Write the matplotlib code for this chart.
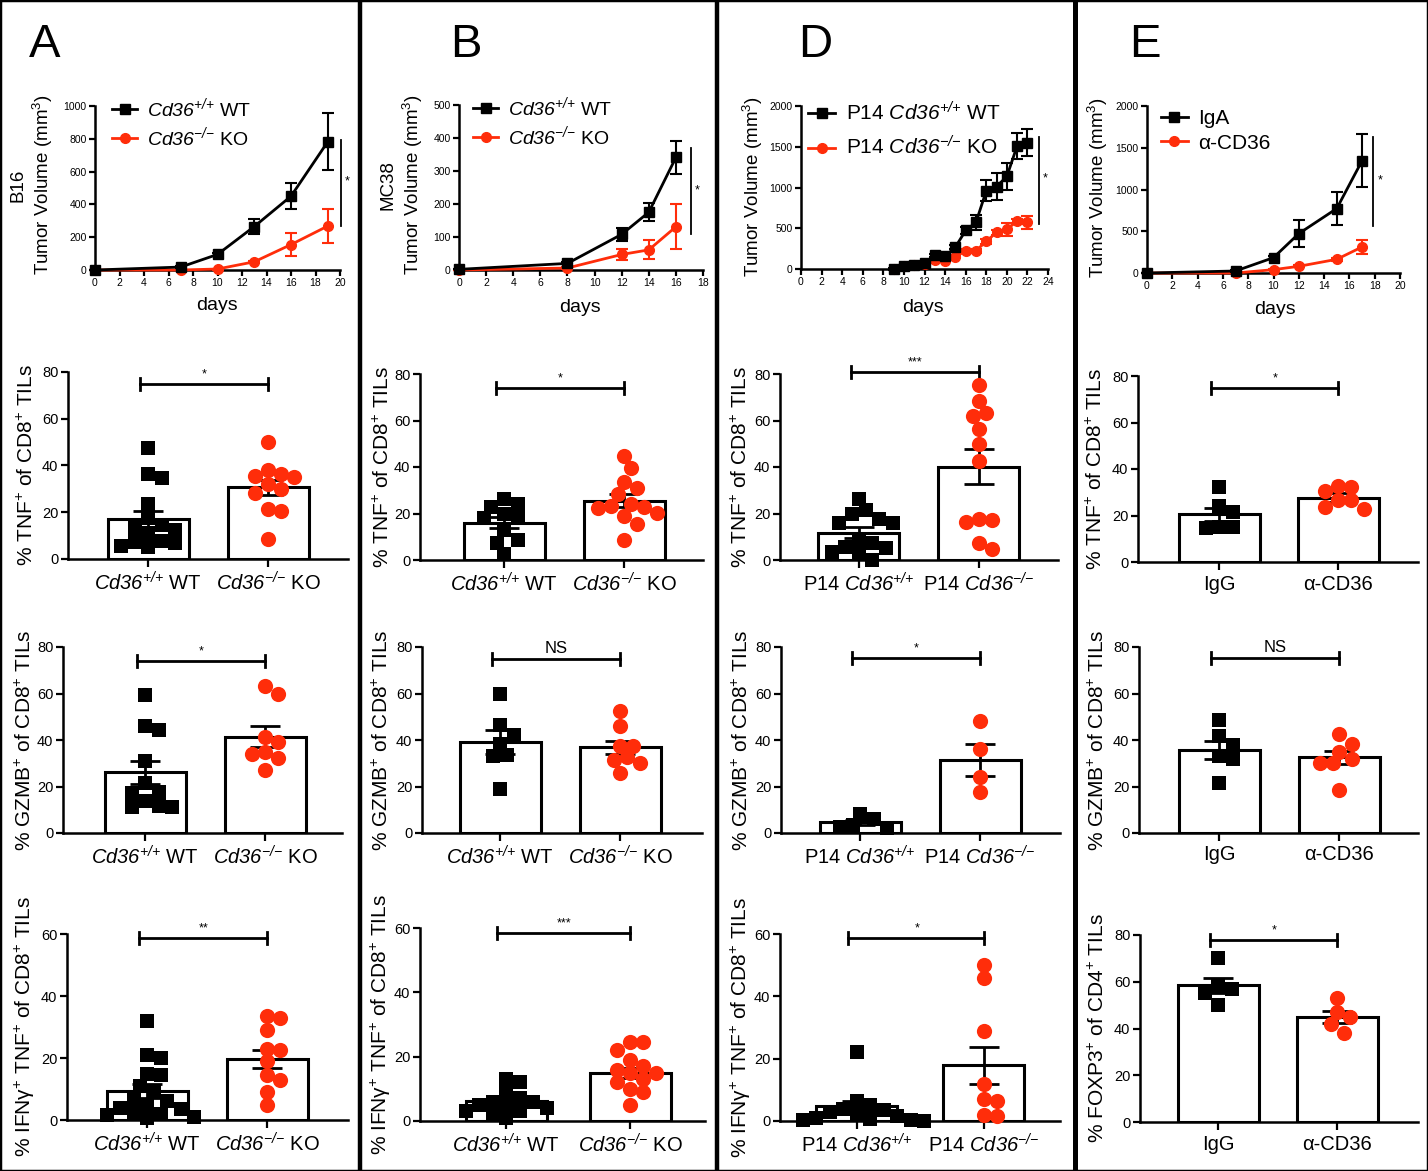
import matplotlib
matplotlib.use('Agg')
import matplotlib.pyplot as plt
from matplotlib.lines import Line2D
import numpy as np

plt.rcParams['font.family'] = ['Liberation Sans', 'DejaVu Sans']
plt.rcParams['mathtext.fontset'] = 'custom'
plt.rcParams['mathtext.rm'] = 'Liberation Sans'
plt.rcParams['mathtext.it'] = 'Liberation Sans:italic'
plt.rcParams['mathtext.sf'] = 'Liberation Sans:italic'
plt.rcParams['mathtext.bf'] = 'Liberation Sans:bold'
plt.rcParams['axes.linewidth'] = 1.8

W, H = 1428, 1171
RED = '#FF2D0A'

# ---------------- tumour growth curves ----------------
b16_days = [0, 7, 10, 13, 16, 19]
b16_wt = [0, 18, 95, 265, 450, 782]
b16_wt_err = [0, 5, 8, 47, 80, 175]
b16_ko = [0, 0, 6, 50, 155, 268]
b16_ko_err = [0, 0, 3, 6, 68, 103]

mc38_days = [0, 8, 12, 14, 16]
mc38_wt = [2, 20, 108, 175, 341]
mc38_wt_err = [0, 3, 20, 28, 49]
mc38_ko = [0, 6, 47, 61, 131]
mc38_ko_err = [0, 2, 18, 29, 68]

p14_days = [9, 10, 11, 12, 13, 14, 15, 16, 17, 18, 19, 20, 21, 22]
p14_wt = [0, 41, 53, 78, 167, 155, 269, 473, 571, 959, 1012, 1135, 1510, 1551]
p14_wt_err = [8, 10, 12, 15, 20, 20, 25, 45, 95, 130, 170, 160, 160, 170]
p14_ko = [0, 33, 45, 65, 110, 98, 147, 224, 224, 339, 449, 490, 584, 576]
p14_ko_err = [5, 8, 8, 10, 12, 12, 15, 20, 25, 30, 35, 80, 30, 80]

ab_days = [0, 7, 10, 12, 15, 17]
ab_iga = [0, 24, 184, 472, 772, 1344]
ab_iga_err = [0, 8, 20, 160, 200, 320]
ab_cd36 = [0, 0, 40, 80, 164, 312]
ab_cd36_err = [0, 0, 8, 12, 20, 85]

# ---------------- TNF+ of CD8+ ----------------
tnf_a_wt = [47.7, 36.3, 34.6, 23.4, 17.4, 13.1, 12.4, 14.6, 11.0, 7.7, 6.7, 5.3, 5.6, 7.1]
tnf_a_ko = [49.9, 36.3, 37.9, 34.9, 35.6, 32.1, 30.0, 28.1, 21.3, 20.6, 8.4]
tnf_a_mean = [17.1, 30.6]
tnf_a_sem = [3.6, 3.4]

tnf_b_wt = [26.1, 22.9, 23.9, 19.6, 18.2, 18.2, 12.9, 8.6, 7.5, 2.4]
tnf_b_ko = [44.7, 39.4, 33.7, 30.8, 28.4, 23.9, 22.9, 20.1, 22.2, 23.4, 18.9, 15.3, 8.6]
tnf_b_mean = [16.1, 25.5]
tnf_b_sem = [2.5, 2.7]

tnf_d_wt = [26.3, 21.3, 19.7, 16.1, 17.7, 15.8, 8.6, 5.7, 7.2, 3.6, 2.9, 5.0, 0.0]
tnf_d_ko = [75.1, 68.2, 63.2, 61.8, 56.3, 50.0, 42.4, 17.2, 16.5, 17.5, 7.2, 4.7]
tnf_d_mean = [11.8, 40.1]
tnf_d_sem = [2.3, 7.5]

tnf_e_igg = [32.3, 24.1, 21.6, 15.1, 14.7, 15.1]
tnf_e_cd36 = [32.3, 32.8, 30.5, 26.6, 26.6, 22.7, 23.7]
tnf_e_mean = [20.5, 27.7]
tnf_e_sem = [2.7, 1.8]

# ---------------- GZMB+ of CD8+ ----------------
gzmb_a_wt = [59.3, 46.1, 44.3, 31.1, 21.7, 17.1, 17.6, 13.9, 11.7, 11.1, 11.1]
gzmb_a_ko = [63.1, 59.7, 41.1, 39.0, 35.0, 34.0, 32.1, 27.1]
gzmb_a_mean = [26.1, 41.4]
gzmb_a_sem = [5.0, 4.6]

gzmb_b_wt = [59.9, 46.3, 42.3, 38.4, 33.7, 33.0, 18.9]
gzmb_b_ko = [52.3, 45.9, 37.6, 37.3, 31.5, 32.5, 30.1, 25.8]
gzmb_b_mean = [39.1, 36.8]
gzmb_b_sem = [5.0, 2.8]

gzmb_d_wt = [8.3, 3.6, 2.1, 2.4, 6.1]
gzmb_d_ko = [48.3, 36.1, 23.9, 17.6]
gzmb_d_mean = [4.6, 31.4]
gzmb_d_sem = [1.1, 6.7]

gzmb_e_igg = [48.6, 41.9, 38.0, 33.3, 31.9, 21.6]
gzmb_e_cd36 = [42.6, 38.3, 35.0, 31.9, 30.0, 30.0, 18.3]
gzmb_e_mean = [35.7, 32.6]
gzmb_e_sem = [3.8, 2.8]

# ---------------- IFNg+TNF+ of CD8+ / FOXP3+ of CD4+ ----------------
ifn_a_wt = [32, 21, 20, 15, 14.5, 11, 9, 7, 6, 5, 4, 3.5, 2.5, 2, 1.5, 1, 0.5]
ifn_a_ko = [33.5, 33, 29, 23, 22.5, 19, 14.5, 13, 9, 5]
ifn_a_mean = [9.4, 19.7]
ifn_a_sem = [2.3, 3.0]

ifn_b_wt = [13, 12, 9, 7, 6, 6, 5, 5, 4, 3, 3, 2, 1]
ifn_b_ko = [24.5, 24.5, 22, 19, 17, 16, 15, 15, 13, 12, 10, 9, 5]
ifn_b_mean = [6.2, 14.9]
ifn_b_sem = [1.1, 1.6]

ifn_d_wt = [22, 6.5, 5, 4, 3.5, 3, 2, 1.5, 1, 0.5, 0.3, 0.2, 0]
ifn_d_ko = [50, 46, 29, 12, 7, 6.5, 2, 1.5]
ifn_d_mean = [4.8, 17.9]
ifn_d_sem = [1.6, 6.0]

foxp3_e_igg = [70, 58, 57, 55, 50]
foxp3_e_cd36 = [53, 47, 45, 42, 38]
foxp3_e_mean = [58.5, 45.0]
foxp3_e_sem = [3.2, 2.5]

# ---------------- labels ----------------
SUP_WT = r'^{\mathsf{{+}/{+}}}'
SUP_KO = r'^{\mathsf{{-}/{-}}}'
WT_LBL = r'$\mathsf{Cd36}' + SUP_WT + r'$ WT'
KO_LBL = r'$\mathsf{Cd36}' + SUP_KO + r'$ KO'
P14_WT = r'P14 $\mathsf{Cd36}' + SUP_WT + r'$'
P14_KO = r'P14 $\mathsf{Cd36}' + SUP_KO + r'$'
TNF_Y = r'% TNF$^{+}$ of CD8$^{+}$ TILs'
GZMB_Y = r'% GZMB$^{+}$ of CD8$^{+}$ TILs'
IFN_Y = r'% IFNγ$^{+}$ TNF$^{+}$ of CD8$^{+}$ TILs'
FOXP3_Y = r'% FOXP3$^{+}$ of CD4$^{+}$ TILs'
TV_Y = r'Tumor Volume (mm$^{3}$)'

fig = plt.figure(figsize=(W / 100, H / 100), dpi=100)


def rect(l, r, t, b):
    return [l / W, 1 - b / H, (r - l) / W, (b - t) / H]


def ftext(x, y, s, **kw):
    fig.text(x / W, 1 - y / H, s, **kw)


def style(ax, tsize):
    for sp in ['top', 'right']:
        ax.spines[sp].set_visible(False)
    ax.tick_params(direction='out', length=5, width=1.6, labelsize=tsize, pad=2)


def tumor_panel(box, days, y1, e1, y2, e2, labels, xmax, ymax, ystep, sig, leg,
                ylab_x, ylab_y, days_xy, extra=None):
    l, r, t, b = box
    ax = fig.add_axes(rect(l, r, t, b))
    ax.set_xlim(0, xmax)
    ax.set_ylim(0, ymax)
    ax.set_xticks(np.arange(0, xmax + 1, 2))
    ax.set_yticks(np.arange(0, ymax + 1, ystep))
    style(ax, 7.5)
    ax.tick_params(length=4)
    ax.errorbar(days, y2, yerr=e2, color=RED, lw=2, marker='o', ms=7,
                capsize=4, elinewidth=1.5, capthick=1.5, clip_on=False, zorder=3)
    ax.errorbar(days, y1, yerr=e1, color='black', lw=2, marker='s', ms=7.5,
                capsize=4, elinewidth=1.5, capthick=1.5, clip_on=False, zorder=4)
    h1 = Line2D([], [], color='black', lw=2, marker='s', ms=7.5)
    h2 = Line2D([], [], color=RED, lw=2, marker='o', ms=7)
    ax.legend([h1, h2], labels, loc='upper left', bbox_to_anchor=leg[:2],
              frameon=False, fontsize=leg[2], handlelength=1.3, handletextpad=0.5,
              labelspacing=leg[3], borderaxespad=0, borderpad=0, numpoints=1)
    sx, sy0, sy1, tx, ty = sig
    ax.plot([sx, sx], [sy0, sy1], color='black', lw=1.3, clip_on=False)
    ax.text(tx, ty, '*', fontsize=9, ha='center', va='center', clip_on=False)
    ftext(ylab_x, ylab_y, TV_Y, rotation=90, ha='center', va='center', fontsize=13.5)
    if extra:
        ftext(extra[0], ylab_y, extra[1], rotation=90, ha='center', va='center', fontsize=13.5)
    ftext(days_xy[0], days_xy[1], 'days', ha='center', va='center', fontsize=14)
    return ax


def swarm(ax, x0, vals, d):
    vals = np.asarray(vals, dtype=float)
    ys = ax.transData.transform(np.column_stack([np.full(len(vals), x0), vals]))[:, 1]
    ppx = ax.transData.transform((1, 0))[0] - ax.transData.transform((0, 0))[0]
    cands = [0.0]
    for k in range(1, 30):
        cands += [k * d / 2, -k * d / 2]
    placed = []
    offs = np.zeros(len(vals))
    for i in np.argsort(-ys):
        for c in cands:
            if all((c - ox) ** 2 + (ys[i] - oy) ** 2 >= (d * 0.95) ** 2 for ox, oy in placed):
                offs[i] = c
                placed.append((c, ys[i]))
                break
    return x0 + offs / ppx


def bar_panel(box, centers, g1, g2, means, sems, ymax, ylabel, ylab_x, xlabels,
              sig, sig_y):
    l, r, t, b = box
    c0, c1 = centers
    unit = c1 - c0
    ax = fig.add_axes(rect(l, r, t, b))
    ax.set_xlim((l - c0) / unit, 1 + (r - c1) / unit)
    ax.set_ylim(0, ymax)
    ax.set_yticks(np.arange(0, ymax + 1, 20))
    ax.set_xticks([0, 1])
    style(ax, 10.5)
    ax.set_xticklabels(xlabels)
    ax.tick_params(axis='x', length=6, pad=3, labelsize=14.5)
    ax.bar([0, 1], means, width=81 / unit, color='white', edgecolor='black',
           lw=2.2, zorder=2)
    ax.errorbar([0, 1], means, yerr=sems, fmt='none', ecolor='black',
                elinewidth=2, capsize=11, capthick=2, zorder=3)
    ax.scatter(swarm(ax, 0, g1, 13.5), g1, marker='s', s=110, color='black',
               linewidths=0, zorder=4, clip_on=False)
    ax.scatter(swarm(ax, 1, g2, 13), g2, marker='o', s=120, color=RED,
               linewidths=0, zorder=4, clip_on=False)
    tick = ymax / 80 * 2.6
    ax.plot([-0.07, 1.0], [sig_y, sig_y], color='black', lw=2, clip_on=False)
    ax.plot([-0.07, -0.07], [sig_y - tick, sig_y + tick], color='black', lw=2, clip_on=False)
    ax.plot([1.0, 1.0], [sig_y - tick, sig_y + tick], color='black', lw=2, clip_on=False)
    fs = 12 if sig == 'NS' else 9
    ax.text(0.47, sig_y + ymax / 80 * 1.5, sig, ha='center', va='bottom',
            fontsize=fs, clip_on=False)
    ftext(ylab_x, (t + b) / 2, ylabel, rotation=90, ha='center', va='center',
          fontsize=15)
    return ax


# ---------------- row 1: growth curves ----------------
tumor_panel((95, 340, 106, 270), b16_days, b16_wt, b16_wt_err, b16_ko, b16_ko_err,
            [WT_LBL, KO_LBL], 20, 1000, 200, (20.08, 793, 270, 20.6, 540),
            (0.07, 1.06, 14, 0.25), 43, 185, (217, 305), extra=(18, 'B16'))
tumor_panel((459, 703, 105, 270), mc38_days, mc38_wt, mc38_wt_err, mc38_ko, mc38_ko_err,
            [WT_LBL, KO_LBL], 18, 500, 100, (17.1, 371, 108, 17.6, 242),
            (0.057, 1.06, 14, 0.25), 413, 185, (580, 307), extra=(388, 'MC38'))
tumor_panel((801, 1048, 106, 269), p14_days, p14_wt, p14_wt_err, p14_ko, p14_ko_err,
            [P14_WT + ' WT', P14_KO + ' KO'],
            24, 2000, 500, (23.1, 1616, 555, 23.7, 1114),
            (0.03, 1.03, 15, 0.55), 753, 187, (923, 307))
tumor_panel((1147, 1400, 106, 273), ab_days, ab_iga, ab_iga_err, ab_cd36, ab_cd36_err,
            ['IgA', 'α-CD36'], 20, 2000, 500, (17.9, 1624, 564, 18.4, 1112),
            (0.055, 0.98, 15, 0.25), 1098, 188, (1275, 310))

# ---------------- row 2: TNF ----------------
bar_panel((68, 348, 372, 559), (148, 268), tnf_a_wt, tnf_a_ko, tnf_a_mean, tnf_a_sem,
          80, TNF_Y, 27, [WT_LBL, KO_LBL], '*', 75)
bar_panel((420, 703, 374, 560), (504, 624), tnf_b_wt, tnf_b_ko, tnf_b_mean, tnf_b_sem,
          80, TNF_Y, 383, [WT_LBL, KO_LBL], '*', 74)
bar_panel((780, 1058, 374, 560), (859, 979), tnf_d_wt, tnf_d_ko, tnf_d_mean, tnf_d_sem,
          80, TNF_Y, 741, [P14_WT, P14_KO], '***', 81)
bar_panel((1138, 1418, 376, 562), (1219, 1338), tnf_e_igg, tnf_e_cd36, tnf_e_mean, tnf_e_sem,
          80, TNF_Y, 1096, ['IgG', 'α-CD36'], '*', 74.7)

# ---------------- row 3: GZMB ----------------
bar_panel((63, 342, 647, 833), (145, 265), gzmb_a_wt, gzmb_a_ko, gzmb_a_mean, gzmb_a_sem,
          80, GZMB_Y, 25, [WT_LBL, KO_LBL], '*', 74)
bar_panel((422, 702, 647, 833), (500, 620), gzmb_b_wt, gzmb_b_ko, gzmb_b_mean, gzmb_b_sem,
          80, GZMB_Y, 382, [WT_LBL, KO_LBL], 'NS', 74.8)
bar_panel((781, 1060, 647, 833), (860, 980), gzmb_d_wt, gzmb_d_ko, gzmb_d_mean, gzmb_d_sem,
          80, GZMB_Y, 742, [P14_WT, P14_KO], '*', 75.4)
bar_panel((1139, 1418, 647, 833), (1219, 1339), gzmb_e_igg, gzmb_e_cd36, gzmb_e_mean, gzmb_e_sem,
          80, GZMB_Y, 1098, ['IgG', 'α-CD36'], 'NS', 75.1)

# ---------------- row 4: IFNg / FOXP3 ----------------
bar_panel((67, 348, 934, 1120), (147, 267), ifn_a_wt, ifn_a_ko, ifn_a_mean, ifn_a_sem,
          60, IFN_Y, 25, [WT_LBL, KO_LBL], '**', 58.7)
bar_panel((420, 705, 928, 1121), (506, 630), ifn_b_wt, ifn_b_ko, ifn_b_mean, ifn_b_sem,
          60, IFN_Y, 381, [WT_LBL, KO_LBL], '***', 58.4)
bar_panel((780, 1060, 934, 1121), (857, 984), ifn_d_wt, ifn_d_ko, ifn_d_mean, ifn_d_sem,
          60, IFN_Y, 741, [P14_WT, P14_KO], '*', 58.7)
bar_panel((1140, 1418, 935, 1122), (1218, 1337), foxp3_e_igg, foxp3_e_cd36, foxp3_e_mean,
          foxp3_e_sem, 80, FOXP3_Y, 1098, ['IgG', 'α-CD36'], '*', 77.8)

# ---------------- panel letters and frames ----------------
for x, s in [(45, 'A'), (466, 'B'), (815, 'D'), (1145, 'E')]:
    ftext(x, 45, s, ha='center', va='center', fontsize=34)

for x, w in [(360, 3.2), (717, 3.2), (1075, 3.6)]:
    fig.add_artist(Line2D([x / W, x / W], [0, 1], color='black', lw=w,
                          transform=fig.transFigure))
for xs, ys in [([0, 0], [0, 1]), ([0, 1], [1, 1]), ([0, 1], [0, 0]), ([1, 1], [0, 1])]:
    fig.add_artist(Line2D(xs, ys, color='black', lw=2.5, transform=fig.transFigure))

fig.savefig('out.png', dpi=100)
